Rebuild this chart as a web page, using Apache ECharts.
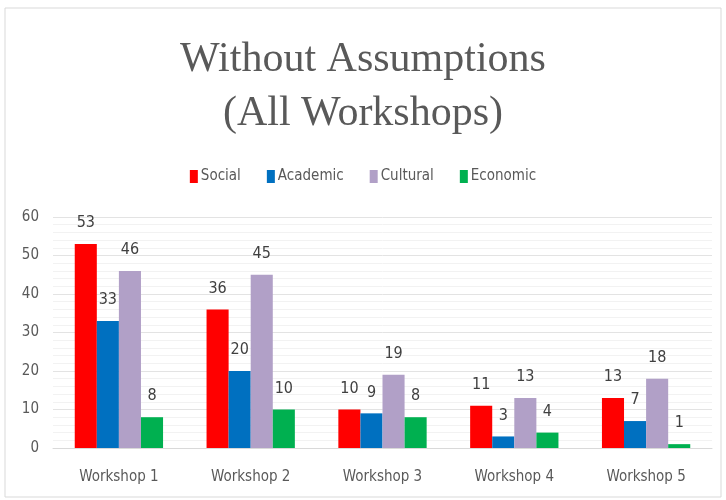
<!DOCTYPE html>
<html><head><meta charset="utf-8">
<script src="https://cdn.jsdelivr.net/npm/echarts@6/dist/echarts.min.js"></script>
<style>html,body{margin:0;padding:0;background:#fff}#c{width:726px;height:500px}</style>
</head><body><div id="c"></div>
<script>
const categories = ['Workshop 1','Workshop 2','Workshop 3','Workshop 4','Workshop 5'];
const social = [53, 36, 10, 11, 13];
const academic = [33, 20, 9, 3, 7];
const cultural = [46, 45, 19, 13, 18];
const economic = [8, 10, 8, 4, 1];
const seriesNames = ['Social','Academic','Cultural','Economic'];
const colors = ['#FF0000','#0070C0','#B1A0C7','#00B050'];
const yTicks = [0, 10, 20, 30, 40, 50, 60];

const chart = echarts.init(document.getElementById('c'));
const font = '"DejaVu Sans Condensed", sans-serif';
const mk = (name, data, i) => ({
  name, type: 'bar', data, barGap: '0%', barCategoryGap: '33%',
  itemStyle: { color: colors[i] },
  label: { show: true, position: 'top', distance: 13, color: '#404040', fontSize: 16, fontFamily: font }
});
chart.setOption({
  animation: false,
  graphic: [{ type: 'rect', shape: { x: 5, y: 8, width: 716, height: 489 }, style: { fill: 'none', stroke: '#d9d9d9', lineWidth: 1 } }],
  title: {
    text: 'Without Assumptions\n(All Workshops)', left: 'center', top: 28,
    textStyle: { fontFamily: '"Liberation Serif", serif', fontSize: 42, fontWeight: 'normal', color: '#595959', lineHeight: 54 }
  },
  legend: {
    data: seriesNames, top: 164, left: 'center', itemWidth: 8, itemHeight: 13, itemGap: 26,
    textStyle: { fontFamily: font, fontSize: 15, color: '#595959', padding: [0, 0, 0, -2] }, icon: 'rect'
  },
  grid: { left: 53, right: 14, top: 217, bottom: 52, containLabel: false },
  xAxis: {
    type: 'category', data: categories,
    axisLine: { lineStyle: { color: '#d9d9d9' } }, axisTick: { show: false },
    axisLabel: { fontFamily: font, fontSize: 15, color: '#595959', margin: 22 }
  },
  yAxis: {
    type: 'value', min: yTicks[0], max: yTicks[yTicks.length - 1], interval: 10,
    axisLabel: { fontFamily: font, fontSize: 15, color: '#595959', margin: 14 },
    splitLine: { lineStyle: { color: '#e3e3e3' } },
    minorTick: { show: false, splitNumber: 5 },
    minorSplitLine: { show: true, lineStyle: { color: '#f2f2f2' } }
  },
  series: [mk(seriesNames[0], social, 0), mk(seriesNames[1], academic, 1), mk(seriesNames[2], cultural, 2), mk(seriesNames[3], economic, 3)]
});
</script></body></html>
